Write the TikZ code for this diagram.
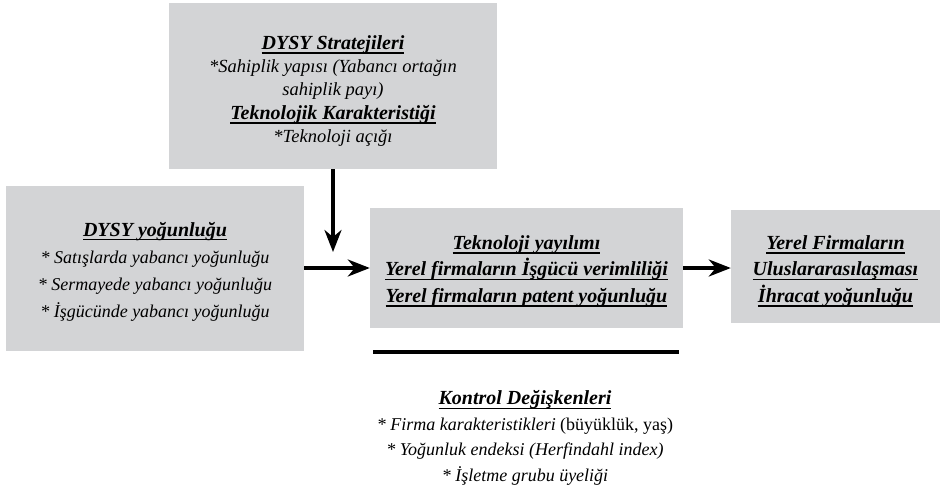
\documentclass[tikz,border=0pt]{standalone}
\usepackage{fontspec}
\setmainfont{Liberation Serif}
\usetikzlibrary{arrows.meta}

\definecolor{kutugri}{RGB}{211,212,214}
\newsavebox{\basliksatir}
\newcommand{\baslik}[1]{{\fontsize{20}{20}\selectfont\bfseries\itshape
  \sbox{\basliksatir}{#1}\rlap{\vrule height -3pt depth 4.3pt width \wd\basliksatir}\usebox{\basliksatir}}}

\tikzset{
  kutu/.style={fill=kutugri, inner sep=0pt},
  metin/.style={align=center, inner sep=0pt, font=\fontsize{18}{27}\selectfont\itshape},
  ok/.style={line width=3.5pt, -{Stealth[length=22pt, width=17pt, inset=7pt]}}
}

\begin{document}
\begin{tikzpicture}[x=1pt, y=-1pt]
				\useasboundingbox (0,0) rectangle (943,493);
				
				% Boxes with their texts
				\node[kutu, minimum width=328pt, minimum height=166pt,
				  label={[metin, yshift=-5pt, font=\fontsize{18.5}{23.3}\selectfont\itshape]center:{\baslik{DYSY Stratejileri}\\ *Sahiplik yapısı (Yabancı ortağın\\ sahiplik payı)\\ \baslik{Teknolojik Karakteristiği}\\ *Teknoloji açığı}}] (dysyStr) at (333,86) {};
				\node[kutu, minimum width=298pt, minimum height=165pt,
				  label={[metin, yshift=-3pt]center:{\baslik{DYSY yoğunluğu}\\ * Satışlarda yabancı yoğunluğu\\ * Sermayede yabancı yoğunluğu\\ * İşgücünde yabancı yoğunluğu}}] (dysyYog) at (155,268.5) {};
				\node[kutu, minimum width=313pt, minimum height=120pt,
				  label={[metin, yshift=-3pt, font=\fontsize{18}{26.5}\selectfont\itshape]center:{\baslik{Teknoloji yayılımı}\\ \baslik{Yerel firmaların İşgücü verimliliği}\\ \baslik{Yerel firmaların patent yoğunluğu}}}] (tekYay) at (526.5,268) {};
				\node[kutu, minimum width=209pt, minimum height=113pt,
				  label={[metin, yshift=-5pt, font=\fontsize{18}{26.5}\selectfont\itshape]center:{\baslik{Yerel Firmaların}\\ \baslik{Uluslararasılaşması}\\ \baslik{İhracat yoğunluğu}}}] (yerelFirma) at (835.5,266) {};
				
				% Control variables
				\node[metin, font=\fontsize{18}{25.7}\selectfont] (kontrol) at (525,438)
				  {\baslik{Kontrol Değişkenleri}\\ \textit{* Firma karakteristikleri} (büyüklük, yaş)\\ \textit{* Yoğunluk endeksi (Herfindahl index)}\\ \textit{* İşletme grubu üyeliği}};
				\coordinate (cizgiA) at (373,352);
				\coordinate (cizgiB) at (679,352);
				
				% Arrows
				\coordinate (okUcu) at (333,252);
				\draw[ok] (dysyStr.south) -- (okUcu);
				\draw[ok] (dysyYog.east |- tekYay.west) -- (tekYay.west);
				\draw[ok] (tekYay.east) -- (yerelFirma.west |- tekYay.east);
				\draw[line width=4pt] (cizgiA) -- (cizgiB);
			\end{tikzpicture}
\end{document}
